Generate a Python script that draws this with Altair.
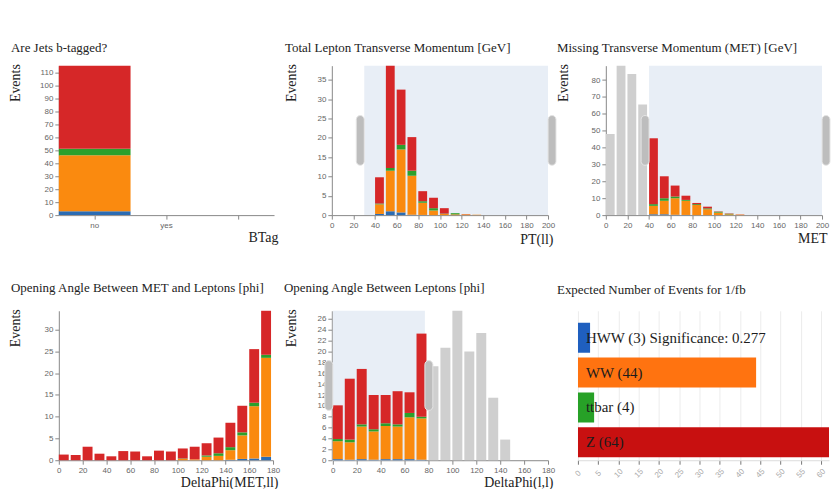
import altair as alt
import pandas as pd

SERIF = "Liberation Serif"
SANS = "Liberation Sans"

samples = ["HWW", "WW", "ttbar", "Z"]
hist_colors = ["#2b6cb3", "#fa8a0f", "#2ca02c", "#d62728"]
bar_colors = ["#1f5fbf", "#ff7310", "#27a127", "#c81010"]
GREY = "#cfcfcf"
BRUSH = "#e8eef6"

# ---------------- Panel 1: b-tag ----------------
btag_cats = ["no", "yes", " "]
btag_hww = [3, 0, 0]
btag_ww = [43, 0, 0]
btag_tt = [5, 0, 0]
btag_z = [64, 0, 0]
btag_yticks = [0, 10, 20, 30, 40, 50, 60, 70, 80, 90, 100, 110]

# ---------------- Panel 2: PT(ll) ----------------
pt_bins = [40, 50, 60, 70, 80, 90, 100, 110, 120, 130]
pt_hww = [0.3, 1.0, 0.7, 0.1, 0.05, 0, 0, 0, 0, 0]
pt_ww = [2.5, 10.5, 16.3, 10.1, 3.15, 1.2, 0.3, 0.2, 0.2, 0.1]
pt_tt = [0.2, 0.7, 1.2, 1.3, 0.4, 0.6, 0.1, 0.3, 0, 0]
pt_z = [6.8, 26.5, 14.3, 8.7, 2.6, 2.7, 1.4, 0.0, 0.05, 0]
pt_brush = [30, 200]
pt_yticks = [0, 5, 10, 15, 20, 25, 30, 35]

# ---------------- Panel 3: MET ----------------
met_grey_bins = [0, 10, 20, 30]
met_grey = [48, 88.5, 83.5, 65.5]
met_bins = [40, 50, 60, 70, 80, 90, 100, 110, 120]
met_hww = [0.5, 0.5, 0.2, 0.1, 0, 0, 0, 0, 0]
met_ww = [5.0, 8.0, 9.8, 8.4, 6.0, 3.5, 1.5, 0.5, 0.3]
met_tt = [1.0, 1.5, 1.0, 0.5, 0.5, 0.5, 0.5, 0.3, 0]
met_z = [39.0, 13.0, 6.5, 2.5, 0.7, 1.0, 0.2, 0.2, 0.1]
met_brush = [40, 200]
met_yticks = [0, 10, 20, 30, 40, 50, 60, 70, 80]

# ---------------- Panel 4: DeltaPhi(MET,ll) ----------------
dpm_bins = [0, 10, 20, 30, 40, 50, 60, 70, 80, 90, 100, 110, 120, 130, 140, 150, 160, 170]
dpm_hww = [0, 0, 0, 0, 0, 0, 0, 0, 0, 0, 0, 0, 0, 0, 0.1, 0.3, 0.4, 0.8]
dpm_ww = [0, 0, 0, 0, 0, 0, 0, 0, 0, 0, 0.3, 0.2, 0.8, 1.0, 2.2, 5.4, 12.0, 22.7]
dpm_tt = [0, 0, 0, 0, 0, 0, 0, 0, 0, 0, 0.1, 0, 0.3, 0.6, 0.7, 0.7, 0.8, 0.7]
dpm_z = [1.3, 1.2, 3.1, 1.5, 0.9, 2.1, 2.0, 0.9, 2.2, 2.0, 2.3, 2.9, 2.8, 3.6, 5.6, 6.1, 12.3, 10.1]
dpm_yticks = [0, 5, 10, 15, 20, 25, 30]

# ---------------- Panel 5: DeltaPhi(l,l) ----------------
dpl_bins = [0, 10, 20, 30, 40, 50, 60, 70]
dpl_hww = [0.2, 0.1, 0.2, 0.1, 0.2, 0.2, 0.2, 0.1]
dpl_ww = [3.3, 3.2, 6.0, 5.2, 6.1, 6.0, 7.7, 7.6]
dpl_tt = [0.4, 0.5, 0.4, 0.4, 0.5, 0.4, 0.8, 0.3]
dpl_z = [6.2, 11.2, 10.2, 6.3, 5.2, 6.1, 3.8, 15.3]
dpl_grey_bins = [80, 90, 100, 110, 120, 130, 140]
dpl_grey = [17.3, 20.7, 27.5, 20.0, 23.4, 11.5, 3.8]
dpl_brush = [0, 77]
dpl_yticks = [0, 2, 4, 6, 8, 10, 12, 14, 16, 18, 20, 22, 24, 26]

# ---------------- Panel 6: expected events ----------------
exp_counts = [3, 44, 4, 64]
exp_labels = ["HWW (3) Significance: 0.277", "WW (44)", "ttbar (4)", "Z (64)"]
exp_ticks = [0, 5, 10, 15, 20, 25, 30, 35, 40, 45, 50, 55, 60]

x_ticks_200 = [0, 20, 40, 60, 80, 100, 120, 140, 160, 180, 200]
x_ticks_180 = [0, 20, 40, 60, 80, 100, 120, 140, 160, 180]

H = 150
ROW1_TITLE_OFF = 9
ROW2_TITLE_OFF = 14


def stack_df(bins, comps, binw=10):
    rows = []
    for i, b in enumerate(bins):
        lo = 0.0
        for s, vals in zip(samples, comps):
            v = vals[i]
            rows.append({"start": b, "end": b + binw, "sample": s, "lo": lo, "hi": lo + v})
            lo += v
    return pd.DataFrame(rows)


def title_params(text, dx, offset):
    return alt.TitleParams(text=text, anchor="start", frame="group", dx=dx, offset=offset,
                           font=SERIF, fontSize=13, fontWeight="normal", color="#222")


def y_axis(ticks, title_x, offset=0):
    kw = dict(values=ticks, title="Events", titleAngle=270, titleAlign="right",
              titleBaseline="alphabetic", titleX=title_x, titleY=-2, labelPadding=2,
              labelOverlap=False)
    if offset:
        kw["offset"] = offset
    return alt.Axis(**kw)


def hist_panel(title, dx, toff, xtitle, xtitle_y, bins, comps, xmax, xticks, yticks, width,
               xrange=None, grey_bins=None, grey_vals=None, brush=None, y_title_x=-38,
               y_offset=0):
    df = stack_df(bins, comps)
    totals = df.groupby("start")["hi"].max().tolist()
    ymax = max(totals + (grey_vals or []))
    r1 = xrange[1] if xrange else width
    xscale_kw = dict(domain=[0, xmax], nice=False, zero=False)
    if xrange:
        xscale_kw["range"] = list(xrange)
    xscale = alt.Scale(**xscale_kw)
    yscale = alt.Scale(domain=[0, ymax], nice=False, zero=True)
    xaxis = alt.Axis(values=xticks, title=xtitle, titleX=r1 + 5, titleY=xtitle_y,
                     titleAlign="right", titleBaseline="alphabetic", labelFlush=False,
                     labelOverlap=False)
    yaxis = y_axis(yticks, y_title_x, y_offset)
    layers = []
    if brush:
        bdf = pd.DataFrame({"b0": [brush[0]], "b1": [brush[1]]})
        layers.append(alt.Chart(bdf).mark_rect(color=BRUSH).encode(
            x=alt.X("b0:Q", scale=xscale, axis=xaxis), x2="b1",
            y=alt.value(0), y2=alt.value(H)))
    if grey_bins:
        gdf = pd.DataFrame({"start": grey_bins, "end": [g + 10 for g in grey_bins], "val": grey_vals})
        layers.append(alt.Chart(gdf).mark_rect(color=GREY, x2Offset=-2).encode(
            x=alt.X("start:Q", scale=xscale, axis=xaxis), x2="end",
            y=alt.Y("val:Q", scale=yscale, axis=yaxis), y2=alt.datum(0)))
    layers.append(alt.Chart(df).mark_rect(x2Offset=-2).encode(
        x=alt.X("start:Q", scale=xscale, axis=xaxis), x2="end",
        y=alt.Y("lo:Q", scale=yscale, axis=yaxis), y2="hi",
        color=alt.Color("sample:N", scale=alt.Scale(domain=samples, range=hist_colors), legend=None)))
    if brush:
        bdf = pd.DataFrame({"b0": [brush[0]], "b1": [brush[1]]})
        hstyle = dict(cornerRadius=4, fill="#bdbdbd", stroke="#e4e4e4", strokeWidth=1)
        layers.append(alt.Chart(bdf).mark_rect(xOffset=-8, x2Offset=0, **hstyle).encode(
            x=alt.X("b0:Q", scale=xscale, axis=xaxis), x2="b0",
            y=alt.value(H / 3), y2=alt.value(2 * H / 3)))
        layers.append(alt.Chart(bdf).mark_rect(xOffset=0, x2Offset=8, **hstyle).encode(
            x=alt.X("b1:Q", scale=xscale, axis=xaxis), x2="b1",
            y=alt.value(H / 3), y2=alt.value(2 * H / 3)))
    return alt.layer(*layers).properties(width=width, height=H, title=title_params(title, dx, toff))


# Panel 1
rows = []
for i, c in enumerate(btag_cats):
    lo = 0.0
    for s, vals in zip(samples, [btag_hww, btag_ww, btag_tt, btag_z]):
        v = vals[i]
        rows.append({"cat": c, "sample": s, "lo": lo, "hi": lo + v})
        lo += v
bt_df = pd.DataFrame(rows)
p1 = alt.Chart(bt_df).mark_rect().encode(
    x=alt.X("cat:N", sort=btag_cats,
            scale=alt.Scale(domain=btag_cats, paddingInner=0, paddingOuter=0),
            axis=alt.Axis(title="BTag", titleX=220, titleY=26, titleAlign="right",
                          titleBaseline="alphabetic", labelAngle=0, labelOverlap=False)),
    y=alt.Y("lo:Q", scale=alt.Scale(domain=[0, 115], nice=False), axis=y_axis(btag_yticks, -39)),
    y2="hi",
    color=alt.Color("sample:N", scale=alt.Scale(domain=samples, range=hist_colors), legend=None),
).properties(width=216, height=H, title=title_params("Are Jets b-tagged?", -48, ROW1_TITLE_OFF))

p2 = hist_panel("Total Lepton Transverse Momentum [GeV]", -47, ROW1_TITLE_OFF, "PT(ll)", 28,
                pt_bins, [pt_hww, pt_ww, pt_tt, pt_z], 200, x_ticks_200, pt_yticks, 217,
                brush=pt_brush, y_title_x=-36)

p3 = hist_panel("Missing Transverse Momentum (MET) [GeV]", -21, ROW1_TITLE_OFF, "MET", 27,
                met_bins, [met_hww, met_ww, met_tt, met_z], 200, x_ticks_200, met_yticks, 245,
                xrange=(28, 245), grey_bins=met_grey_bins, grey_vals=met_grey, brush=met_brush,
                y_title_x=-38, y_offset=-28)

p4 = hist_panel("Opening Angle Between MET and Leptons [phi]", -48, ROW2_TITLE_OFF, "DeltaPhi(MET,ll)", 26,
                dpm_bins, [dpm_hww, dpm_ww, dpm_tt, dpm_z], 180, x_ticks_180, dpm_yticks, 244,
                xrange=(0, 215), y_title_x=-39)

p5 = hist_panel("Opening Angle Between Leptons [phi]", -48, ROW2_TITLE_OFF, "DeltaPhi(l,l)", 26,
                dpl_bins, [dpl_hww, dpl_ww, dpl_tt, dpl_z], 180, x_ticks_180, dpl_yticks, 217,
                xrange=(1, 217), grey_bins=dpl_grey_bins, grey_vals=dpl_grey, brush=dpl_brush,
                y_title_x=-36)

# Panel 6
edf = pd.DataFrame({"process": samples, "count": exp_counts, "label": exp_labels})
ex_x = alt.Scale(domain=[0, 62], nice=False)
ex_y = alt.Scale(domain=samples, paddingInner=0.14, paddingOuter=0.2145, align=0.8)
ex_axis = alt.Axis(values=exp_ticks, title=None, grid=True, gridColor="#ececec",
                   labelAngle=315, labelAlign="center", labelBaseline="middle",
                   labelPadding=9, labelColor="#aaa", domainColor="#ddd",
                   tickColor="#777", labelFlush=False, labelOverlap=False)
bars6 = alt.Chart(edf).mark_bar(clip=True).encode(
    x=alt.X("count:Q", scale=ex_x, axis=ex_axis),
    y=alt.Y("process:N", sort=samples, scale=ex_y, axis=None),
    color=alt.Color("process:N", scale=alt.Scale(domain=samples, range=bar_colors), legend=None),
)
text6 = alt.Chart(edf).mark_text(align="left", baseline="middle", dx=8, font=SERIF,
                                 fontSize=15, color="#1c1c1c").encode(
    x=alt.XDatum(0, scale=ex_x, axis=ex_axis),
    y=alt.Y("process:N", sort=samples, scale=ex_y, axis=None),
    text="label:N",
)
p6 = alt.layer(bars6, text6).properties(
    width=252, height=H, title=title_params("Expected Number of Events for 1/fb", -21, ROW2_TITLE_OFF))

chart = alt.concat(p1, p2, p3, p4, p5, p6, columns=3).properties(
    spacing={"row": 96, "column": 30}, bounds="flush", align="each",
    padding={"left": 1, "top": 33, "right": 0, "bottom": 0},
).resolve_scale(color="independent").configure_view(stroke=None).configure_axis(
    labelFont=SANS, labelFontSize=8, labelColor="#666", tickColor="#888", domainColor="#888",
    tickSize=4, grid=False, labelOverlap=False, titleFont=SERIF, titleFontSize=14,
    titleFontWeight="normal", titleColor="#222",
)

chart.save("out.html", embed_options={"renderer": "svg", "actions": False})
